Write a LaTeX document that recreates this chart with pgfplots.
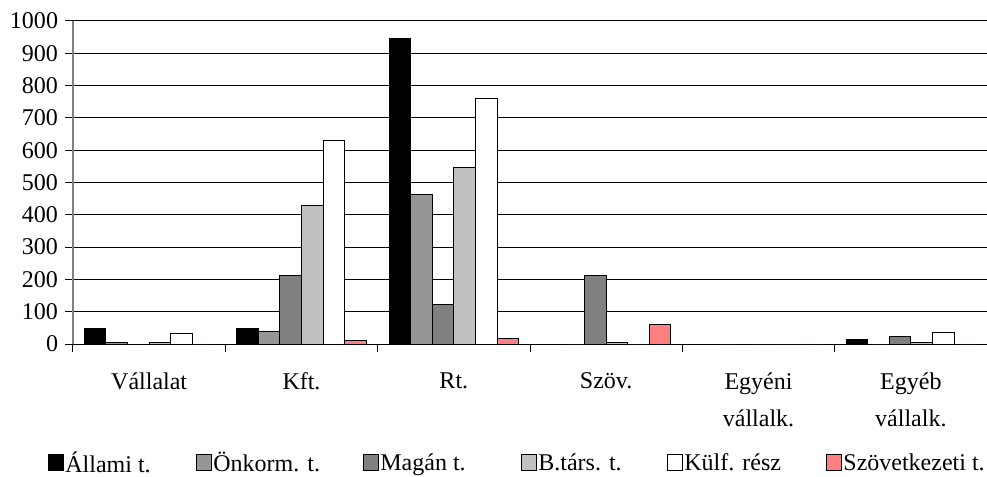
\documentclass[border=0pt]{standalone}
\usepackage{fontspec}
\setmainfont{Liberation Serif}
\usepackage{pgfplots}
\pgfplotsset{compat=1.18}
\definecolor{cOnk}{HTML}{969696}
\definecolor{cMag}{HTML}{808080}
\definecolor{cBt}{HTML}{C0C0C0}
\definecolor{cSzov}{HTML}{FF8080}
\definecolor{cAx}{HTML}{808080}
\pgfplotsset{sq legend/.style={legend image code/.code={\draw[##1,draw=black,line width=0.5pt] (0pt,-3.5pt) rectangle (7.5pt,4.5pt);}}}
\begin{document}
\fontsize{12}{14}\selectfont
\begin{tikzpicture}
\begin{axis}[
  scale only axis, width=457pt, height=161.5pt,
  ymin=0, ymax=1000, ytick={0,100,...,1000},
  xmin=-0.5, xmax=5.5,
  xtick={-0.5,0.5,...,5.5},
  xticklabels={Vállalat, Kft., Rt., Szöv., {Egyéni\\[2.5pt]vállalk.}, {Egyéb\\[2.5pt]vállalk.}},
  x tick label as interval,
  ybar=0pt, bar width=10.8pt,
  axis lines*=left,
  x axis line style={black, line width=0.5pt},
  y axis line style={cAx, line width=0.8pt},
  tick align=outside, major tick length=3.8pt,
  tick style={black, line width=0.5pt},
  ymajorgrids, grid style={black, line width=0.5pt},
  /pgf/number format/assume math mode=true,
  /pgf/number format/1000 sep={},
  ticklabel style={font=\fontsize{12}{16}\selectfont},
  yticklabel style={xshift=0.5pt},
  xticklabel style={align=center, yshift=-6.5pt},
  legend columns=6,
  legend style={draw=none, at={(0,-0.35)}, anchor=west, xshift=-12.5pt, yshift=-3.3pt,
    font=\fontsize{12}{14}\selectfont, inner sep=0pt,
    /tikz/every odd column/.append style={column sep=0pt},
    /tikz/every even column/.append style={column sep=0pt},
    nodes={inner sep=0.5pt}},
  clip=false,
]
\addplot[sq legend, fill=black, draw=black, line width=0.5pt] coordinates {(0,49) (1,49) (2,947) (3,0) (4,0) (5,13)};
\addplot[sq legend, fill=cOnk, draw=black, line width=0.5pt] coordinates {(0,6) (1,40) (2,463) (3,0) (4,0) (5,0)};
\addplot[sq legend, fill=cMag, draw=black, line width=0.5pt] coordinates {(0,0) (1,212) (2,122) (3,212) (4,0) (5,23)};
\addplot[sq legend, fill=cBt, draw=black, line width=0.5pt] coordinates {(0,6) (1,428) (2,545) (3,6) (4,0) (5,6)};
\addplot[sq legend, fill=white, draw=black, line width=0.5pt] coordinates {(0,31) (1,630) (2,760) (3,0) (4,0) (5,36)};
\addplot[sq legend, fill=cSzov, draw=black, line width=0.5pt] coordinates {(0,0) (1,12) (2,17) (3,60) (4,0) (5,0)};
\legend{\makebox[65pt][l]{Állami t.}, \makebox[74.5pt][l]{Önkorm. t.}, \makebox[70pt][l]{Magán t.}, \makebox[64pt][l]{B.társ. t.}, \makebox[70.5pt][l]{Külf. rész}, \makebox[72pt][l]{Szövetkezeti t.}}
\end{axis}
\pgfresetboundingbox
\path ([shift={(-36.5pt,-66pt)}]current axis.south west) rectangle ([shift={(0pt,10.5pt)}]current axis.north east);
\end{tikzpicture}
\end{document}
